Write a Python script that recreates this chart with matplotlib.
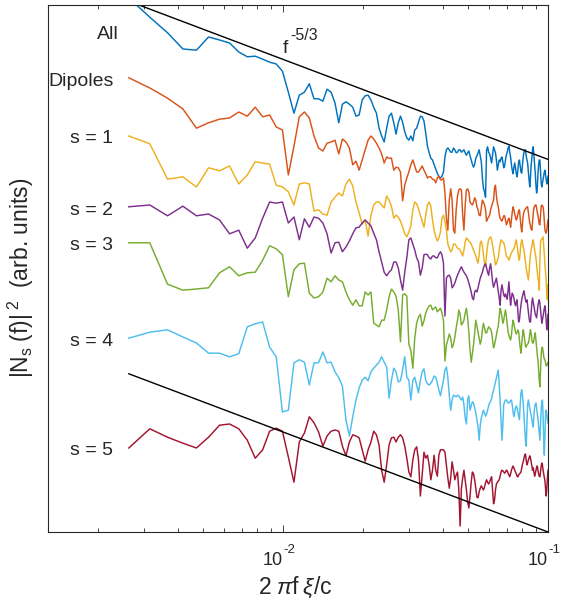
import numpy as np
import matplotlib
matplotlib.use('Agg')
import matplotlib.pyplot as plt
from matplotlib.ticker import FixedLocator, NullLocator, LogLocator, NullFormatter

plt.rcParams['font.family'] = ['Liberation Sans', 'DejaVu Sans']
plt.rcParams['mathtext.fontset'] = 'custom'
plt.rcParams['mathtext.rm'] = 'Liberation Sans'
plt.rcParams['mathtext.it'] = 'Liberation Sans:italic'
plt.rcParams['mathtext.bf'] = 'Liberation Sans:bold'

# ---------------- data ----------------
bin_index = np.arange(5, 192)          # FFT bins shown
freq_step = 0.1 / 191                  # 2*pi*f*xi/c per bin
freq = bin_index * freq_step

series_labels = ['All', 'Dipoles', 's = 1', 's = 2', 's = 3', 's = 4', 's = 5']

# spectra in dB (arbitrary reference), one value per bin
all_db = [89.0, 85.8, 83.2, 80.5, 80.3, 82.5, 82.0, 81.5, 80.0, 79.2,
          79.3, 78.8, 78.3, 78.0, 76.8, 73.3, 69.8, 72.8, 73.3, 74.7,
          72.2, 72.2, 71.8, 73.8, 73.3, 71.5, 68.2, 71.3, 71.7, 71.3,
          70.8, 69.3, 69.5, 72.0, 72.7, 72.8, 72.0, 70.8, 69.8, 67.3,
          66.0, 65.0, 67.3, 69.3, 69.8, 68.2, 66.3, 68.2, 69.3, 68.3,
          66.7, 65.7, 65.3, 66.0, 65.2, 67.0, 67.3, 68.3, 69.3, 69.2,
          68.5, 66.5, 64.3, 63.2, 62.3, 62.0, 61.2, 60.5, 59.8, 59.2,
          59.0, 59.3, 60.0, 62.5, 63.7, 64.0, 63.7, 63.3, 63.3, 64.0,
          63.7, 63.2, 63.3, 63.7, 63.7, 63.3, 63.5, 63.7, 63.2, 62.8,
          63.2, 63.5, 62.7, 62.0, 61.3, 60.8, 61.3, 62.3, 62.7, 63.2,
          63.7, 62.7, 61.7, 59.0, 57.3, 56.7, 55.8, 63.7, 64.2, 63.3,
          63.0, 62.3, 61.5, 62.8, 64.2, 63.7, 63.2, 62.0, 60.3, 61.2,
          62.0, 61.7, 62.3, 62.5, 61.7, 60.7, 61.0, 62.0, 62.8, 63.3,
          64.0, 64.3, 63.3, 62.5, 61.2, 60.3, 59.7, 60.7, 61.5, 60.7,
          59.7, 59.2, 60.3, 61.7, 62.0, 61.0, 60.0, 59.8, 61.2, 62.5,
          63.3, 63.7, 63.7, 62.7, 62.0, 61.5, 60.0, 58.7, 57.5, 59.0,
          61.2, 62.3, 63.7, 64.2, 62.7, 61.2, 59.8, 57.8, 56.5, 57.3,
          59.5, 61.2, 62.0, 62.0, 60.0, 58.2, 57.5, 58.2, 58.7, 59.3,
          60.0, 60.3, 59.5, 58.7, 58.0, 58.3, 59.3]

dipoles_db = [75.7, 74.0, 72.3, 70.5, 67.3, 68.2, 68.8, 69.0, 70.0, 69.3,
              70.8, 69.2, 69.5, 67.5, 67.0, 59.5, 64.3, 69.2, 70.0, 69.0,
              66.0, 64.0, 63.5, 64.8, 65.0, 65.3, 63.0, 65.5, 65.0, 64.0,
              61.2, 61.8, 60.3, 62.0, 63.7, 65.3, 66.0, 65.5, 64.8, 64.0,
              63.0, 61.5, 62.5, 62.3, 62.3, 60.3, 60.8, 60.7, 60.0, 55.2,
              57.8, 59.0, 60.0, 61.2, 62.0, 61.0, 60.0, 60.0, 60.5, 61.0,
              60.3, 59.7, 59.0, 59.2, 59.2, 58.8, 58.7, 58.2, 59.0, 59.3,
              58.7, 58.7, 59.0, 56.5, 52.3, 50.3, 55.3, 57.2, 55.3, 50.3,
              49.8, 53.7, 56.0, 57.0, 57.2, 57.0, 52.8, 50.3, 54.5, 57.0,
              57.2, 56.7, 55.0, 54.7, 54.5, 55.0, 55.7, 55.3, 54.2, 53.7,
              52.8, 52.7, 54.0, 55.3, 55.0, 54.5, 53.7, 51.8, 52.2, 52.5,
              52.8, 53.7, 54.3, 54.8, 55.3, 57.3, 57.8, 56.0, 54.8, 54.2,
              53.0, 52.3, 52.0, 51.8, 52.2, 52.7, 52.7, 52.0, 51.2, 51.5,
              52.0, 52.3, 51.7, 50.8, 52.0, 53.3, 54.2, 53.7, 53.0, 52.5,
              52.0, 52.3, 53.0, 53.5, 53.7, 52.3, 51.0, 50.0, 51.3, 52.8,
              53.3, 53.7, 53.8, 54.0, 54.2, 54.2, 53.3, 52.3, 51.5, 51.0,
              50.5, 50.3, 51.7, 53.0, 54.0, 54.3, 54.5, 54.5, 54.0, 53.3,
              52.8, 52.0, 51.3, 51.2, 52.8, 54.3, 54.5, 54.3, 54.2, 53.3,
              51.7, 50.3, 50.0, 49.8, 50.3, 51.2, 52.0]

s1_db = [66.0, 64.7, 58.8, 59.2, 57.5, 60.7, 60.2, 61.0, 58.0, 59.5,
         61.7, 61.5, 61.3, 57.8, 57.5, 56.7, 54.5, 58.0, 58.2, 58.0,
         53.5, 53.7, 53.0, 52.8, 55.0, 55.8, 56.5, 56.0, 58.0, 58.8,
         57.7, 55.0, 53.2, 51.3, 52.0, 49.3, 52.8, 54.5, 55.0, 55.0,
         54.5, 54.0, 56.0, 55.3, 54.3, 52.3, 52.8, 52.5, 51.8, 50.8,
         49.7, 49.2, 50.0, 51.0, 53.7, 55.0, 54.7, 53.8, 52.8, 51.8,
         50.8, 52.8, 54.5, 55.0, 54.3, 52.0, 50.3, 49.2, 48.5, 49.0,
         50.0, 52.3, 52.8, 51.7, 50.3, 48.0, 47.3, 46.7, 47.0, 48.0,
         48.0, 47.7, 47.3, 47.2, 47.0, 46.5, 46.0, 47.0, 48.3, 49.0,
         48.8, 48.5, 48.3, 48.0, 47.5, 47.0, 46.5, 46.0, 45.3, 44.8,
         46.2, 48.2, 48.5, 47.7, 46.2, 44.8, 44.3, 46.2, 47.8, 48.7,
         49.0, 49.2, 48.7, 47.7, 46.8, 45.7, 44.5, 44.8, 45.3, 45.7,
         47.0, 48.0, 48.7, 48.5, 48.3, 48.2, 47.7, 46.8, 46.0, 45.8,
         45.7, 45.3, 45.7, 46.2, 46.5, 46.8, 47.0, 47.2, 47.7, 48.2,
         48.7, 47.8, 46.7, 45.7, 45.3, 46.7, 48.0, 48.7, 48.2, 47.5,
         47.0, 46.0, 45.0, 44.0, 43.3, 42.7, 42.0, 43.3, 45.0, 46.3,
         47.0, 47.7, 48.3, 48.7, 47.8, 47.0, 46.3, 45.7, 44.5, 43.3,
         42.3, 41.7, 40.3, 45.0, 48.3, 48.7, 48.8, 49.0, 49.2, 47.8,
         46.2, 44.5, 43.3, 42.0, 39.5, 38.7, 41.2]

s2_db = [54.2, 54.5, 52.7, 54.3, 52.7, 53.0, 52.0, 49.7, 50.3, 47.3,
         49.0, 52.3, 55.0, 54.8, 55.0, 51.5, 52.5, 48.7, 52.2, 50.8,
         52.5, 52.3, 51.5, 49.7, 46.5, 48.2, 48.3, 46.7, 47.5, 48.5,
         49.7, 50.7, 50.8, 51.5, 52.0, 51.5, 51.0, 49.8, 48.7, 46.7,
         45.0, 43.3, 42.7, 43.3, 43.7, 45.0, 45.0, 44.0, 42.0, 40.3,
         43.3, 45.7, 48.7, 49.0, 48.0, 47.0, 45.7, 45.0, 42.8, 44.0,
         46.2, 46.3, 46.2, 45.7, 45.5, 46.0, 46.0, 45.7, 45.7, 46.3,
         46.7, 46.2, 44.8, 36.0, 42.3, 42.7, 42.8, 42.3, 40.7, 41.0,
         41.5, 42.2, 42.8, 43.3, 43.8, 44.2, 43.7, 43.3, 43.0, 42.7,
         42.2, 41.5, 40.8, 40.0, 39.0, 38.7, 40.0, 40.3, 40.0, 40.7,
         41.5, 42.3, 42.8, 43.3, 44.0, 44.5, 44.7, 44.0, 43.3, 42.8,
         44.0, 44.7, 43.3, 41.7, 40.8, 41.3, 41.8, 42.3, 41.2, 40.0,
         39.0, 37.8, 40.3, 41.2, 40.3, 39.5, 39.2, 39.7, 39.2, 38.8,
         40.3, 41.7, 39.5, 37.8, 39.0, 39.8, 39.5, 39.0, 38.2, 37.7,
         38.3, 38.7, 36.7, 35.0, 35.3, 36.7, 37.8, 38.7, 39.3, 39.8,
         40.2, 39.5, 38.7, 38.3, 38.7, 37.8, 36.7, 35.7, 35.0, 35.0,
         36.7, 38.2, 39.0, 38.3, 37.7, 37.0, 36.3, 36.0, 35.7, 36.7,
         37.7, 38.3, 38.7, 38.2, 37.0, 35.7, 34.8, 35.3, 36.0, 36.7,
         37.3, 37.7, 36.7, 35.3, 33.7, 34.5, 36.3]

s3_db = [48.2, 48.2, 41.3, 40.3, 40.5, 40.7, 43.2, 44.2, 42.7, 43.2,
         43.3, 45.3, 47.7, 47.2, 46.2, 39.2, 43.7, 44.7, 44.8, 39.8,
         39.0, 39.2, 40.0, 42.3, 41.7, 42.7, 42.0, 41.7, 40.0, 38.7,
         37.8, 38.7, 37.7, 37.7, 40.0, 39.5, 40.0, 34.8, 34.5, 34.2,
         35.3, 35.3, 37.0, 39.2, 40.5, 40.0, 39.3, 37.0, 31.7, 39.5,
         39.7, 39.3, 31.3, 30.3, 27.3, 32.3, 34.8, 35.8, 36.3, 34.3,
         35.2, 36.5, 37.2, 37.7, 37.8, 37.0, 37.3, 37.5, 36.7, 37.0,
         37.3, 36.5, 35.3, 28.5, 31.2, 32.0, 33.0, 32.3, 30.7, 31.3,
         32.5, 34.0, 35.3, 37.0, 36.3, 34.5, 34.8, 35.3, 36.5, 37.3,
         35.7, 33.3, 30.3, 28.3, 29.7, 31.2, 33.3, 35.3, 34.3, 33.3,
         32.3, 31.3, 32.0, 33.7, 34.8, 34.0, 33.2, 33.2, 33.7, 34.2,
         34.0, 33.8, 33.3, 32.0, 30.7, 31.2, 32.0, 32.8, 33.7, 34.3,
         36.0, 37.3, 36.7, 35.7, 34.8, 35.3, 36.3, 37.0, 36.0, 34.7,
         33.3, 32.8, 32.3, 32.0, 32.8, 34.3, 35.3, 34.7, 34.0, 33.3,
         33.0, 33.3, 33.7, 33.3, 32.0, 30.7, 29.8, 31.2, 32.7, 33.7,
         33.0, 32.0, 31.0, 30.8, 31.2, 31.3, 31.5, 32.0, 33.0, 33.7,
         33.0, 32.0, 31.5, 31.5, 32.0, 32.7, 33.2, 32.0, 30.7, 29.5,
         28.7, 27.0, 25.3, 24.2, 27.0, 29.5, 30.7, 30.8, 30.0, 29.3,
         28.8, 28.7, 28.2, 27.7, 27.7, 28.0, 28.3]

s4_db = [32.3, 33.3, 33.7, 32.5, 31.5, 29.8, 29.8, 29.2, 29.7, 34.2,
         34.7, 35.0, 30.8, 29.2, 20.0, 20.3, 28.2, 28.7, 28.3, 24.5,
         28.2, 28.2, 30.0, 28.2, 28.3, 26.7, 25.7, 24.3, 18.7, 16.0,
         19.2, 22.0, 24.0, 25.3, 25.8, 25.2, 26.7, 27.3, 27.8, 28.3,
         29.2, 28.3, 27.5, 22.3, 25.3, 27.3, 26.7, 25.0, 25.2, 27.0,
         29.2, 25.8, 25.3, 22.0, 25.3, 25.8, 24.5, 23.2, 25.3, 26.7,
         27.2, 25.3, 24.7, 24.5, 24.8, 25.3, 26.0, 25.8, 24.8, 23.7,
         22.7, 24.0, 25.3, 27.0, 27.5, 25.7, 22.8, 20.3, 22.0, 22.8,
         22.7, 22.5, 22.8, 22.7, 22.3, 22.0, 22.5, 21.2, 19.0, 18.0,
         22.0, 22.7, 20.3, 21.0, 21.7, 21.5, 20.7, 19.8, 18.7, 17.5,
         15.3, 17.8, 19.0, 19.7, 20.3, 19.8, 19.3, 19.7, 20.3, 21.0,
         21.5, 21.8, 22.2, 23.0, 23.7, 24.3, 25.0, 25.7, 26.3, 27.0,
         24.5, 22.0, 18.7, 15.3, 17.8, 21.2, 21.7, 22.0, 22.0, 21.7,
         21.5, 21.5, 21.7, 21.8, 22.0, 21.2, 20.0, 19.2, 20.0, 20.7,
         21.0, 20.7, 20.0, 19.3, 18.7, 21.2, 23.2, 23.7, 22.7, 21.5,
         19.5, 17.3, 15.3, 14.3, 17.8, 21.2, 22.0, 21.3, 20.7, 20.0,
         19.5, 18.7, 18.0, 17.5, 19.5, 20.7, 21.3, 21.5, 20.7, 19.7,
         19.0, 17.8, 16.7, 15.3, 17.8, 20.3, 21.7, 22.0, 19.5, 15.3,
         12.8, 16.2, 19.5, 20.3, 19.7, 18.7, 18.2]

s5_db = [14.0, 17.2, 15.8, 14.8, 14.0, 15.8, 17.8, 18.0, 17.2, 15.3,
         12.3, 13.7, 16.8, 17.3, 16.8, 12.5, 8.3, 15.0, 16.5, 19.2,
         18.2, 16.7, 14.3, 16.0, 16.8, 17.0, 16.8, 14.3, 12.7, 15.0,
         16.2, 16.0, 15.7, 13.7, 11.8, 13.7, 15.0, 16.8, 16.2, 14.5,
         10.3, 8.3, 11.2, 14.5, 15.7, 15.8, 15.0, 15.8, 16.2, 15.7,
         14.3, 12.3, 10.0, 9.2, 12.0, 13.7, 14.2, 12.0, 6.0, 9.5,
         13.3, 12.3, 12.8, 11.2, 8.7, 10.3, 12.8, 10.3, 9.3, 12.8,
         13.7, 13.7, 13.7, 13.3, 11.2, 9.0, 7.3, 9.0, 11.7, 10.3,
         8.7, 9.5, 10.0, 7.0, 1.0, 7.3, 9.0, 10.3, 8.7, 7.0,
         5.0, 4.0, 6.0, 8.3, 10.0, 9.7, 8.7, 7.3, 5.8, 5.7,
         6.7, 7.3, 7.7, 7.3, 7.0, 7.5, 8.2, 8.7, 8.3, 8.0,
         8.3, 8.8, 9.2, 7.0, 4.7, 5.3, 7.0, 8.0, 8.3, 8.5,
         8.7, 9.3, 10.0, 10.3, 10.2, 10.0, 9.8, 10.0, 10.3, 10.2,
         9.8, 9.5, 9.2, 9.7, 10.3, 10.7, 11.0, 10.7, 10.3, 10.0,
         9.7, 9.3, 9.2, 9.5, 9.7, 9.8, 10.0, 10.7, 11.3, 11.7,
         12.3, 12.8, 13.0, 12.0, 11.2, 11.5, 12.0, 12.3, 12.7, 12.3,
         11.7, 11.0, 10.3, 10.7, 10.0, 9.3, 9.7, 10.3, 10.8, 11.0,
         10.3, 9.7, 9.3, 9.2, 10.0, 11.0, 11.5, 11.2, 10.3, 9.7,
         9.0, 8.5, 7.3, 6.0, 7.0, 9.0, 10.3]

spectra_db = [all_db, dipoles_db, s1_db, s2_db, s3_db, s4_db, s5_db]

# f^{-5/3} reference lines: level (dB) at the highest frequency
ref_exponent = -5.0 / 3.0
ref_freq_end = 0.1
ref_levels_db = [62.1, 0.0]

# x tick labels (base, exponent)
xtick_values = [0.01, 0.1]
xtick_exponents = ['-2', '-1']

# ---------------- style / layout ----------------
colors = ['#0072BD', '#D95319', '#EDB120', '#7E2F8E', '#77AC30', '#4DBEEE', '#A2142F']
label_x = [0.00240, 0.00229, 0.00229, 0.00229, 0.00229, 0.00229, 0.00229]
label_y_db = [82.2, 74.3, 64.8, 52.8, 47.0, 31.0, 12.8]
axis_color = '#262626'

fig = plt.figure(figsize=(5.68, 5.99), dpi=100)
ax = fig.add_axes([48 / 568, 67 / 599, 500 / 568, 527 / 599])

for vals, col in zip(spectra_db, colors):
    ax.plot(freq, 10 ** (np.asarray(vals) / 10.0), color=col, lw=1.05)

fline = np.array([freq[0], ref_freq_end])
for lev in ref_levels_db:
    ax.plot(fline, 10 ** (lev / 10.0) * (fline / ref_freq_end) ** ref_exponent,
            color='black', lw=1.0)

ax.set_xscale('log')
ax.set_yscale('log')
ax.set_xlim(0.001297, 0.1)
ax.set_ylim(1.0, 10 ** 8.783)

ax.xaxis.set_major_locator(FixedLocator(xtick_values))
ax.set_xticklabels(['' for _ in xtick_values])
ax.xaxis.set_minor_locator(LogLocator(base=10, subs=np.arange(2, 10)))
ax.xaxis.set_minor_formatter(NullFormatter())
ax.yaxis.set_major_locator(NullLocator())
ax.yaxis.set_minor_locator(NullLocator())

ax.tick_params(axis='x', which='both', direction='in', top=True, bottom=True,
               color=axis_color, labelcolor=axis_color, labelsize=13, width=0.6)
ax.tick_params(axis='x', which='major', length=5)
ax.tick_params(axis='x', which='minor', length=3)
for sp in ax.spines.values():
    sp.set_color(axis_color)
    sp.set_linewidth(0.8)

# tick labels as "10" with a raised exponent (plain hyphen, like the original)
xt = ax.get_xaxis_transform()
for xv, ex in zip(xtick_values, xtick_exponents):
    ax.annotate('10', xy=(xv, 0), xycoords=xt, xytext=(-7.2, -23.8),
                textcoords='offset points', ha='center', va='baseline',
                fontsize=13, color=axis_color, annotation_clip=False)
    ax.annotate(ex, xy=(xv, 0), xycoords=xt, xytext=(0.5, -15.0),
                textcoords='offset points', ha='left', va='baseline',
                fontsize=9.5, color=axis_color, annotation_clip=False)

for name, x, ydb in zip(series_labels, label_x, label_y_db):
    ax.text(x, 10 ** (ydb / 10.0), name, ha='right', va='baseline',
            fontsize=14, color=axis_color)

# f^{-5/3} annotation
ax.text(0.0100, 10 ** (79.8 / 10.0), 'f', ha='left', va='baseline',
        fontsize=14, color=axis_color)
ax.annotate('-5/3', xy=(0.0100, 10 ** (79.8 / 10.0)), xytext=(5.0, 9.4),
            textcoords='offset points', ha='left', va='baseline',
            fontsize=11.5, color=axis_color)

ax.set_xlabel(r'2$\;\pi$f$\;\xi$/c', fontsize=16.5, color=axis_color)
ax.xaxis.set_label_coords(0.495, -0.080)
ax.set_ylabel(r'|N$_{\mathregular{s}}\;$(f)|$^{\;\mathregular{2}}$  (arb. units)',
              fontsize=16.5, color=axis_color)
ax.yaxis.set_label_coords(-0.024, 0.482)

fig.savefig('out.png', dpi=100)
